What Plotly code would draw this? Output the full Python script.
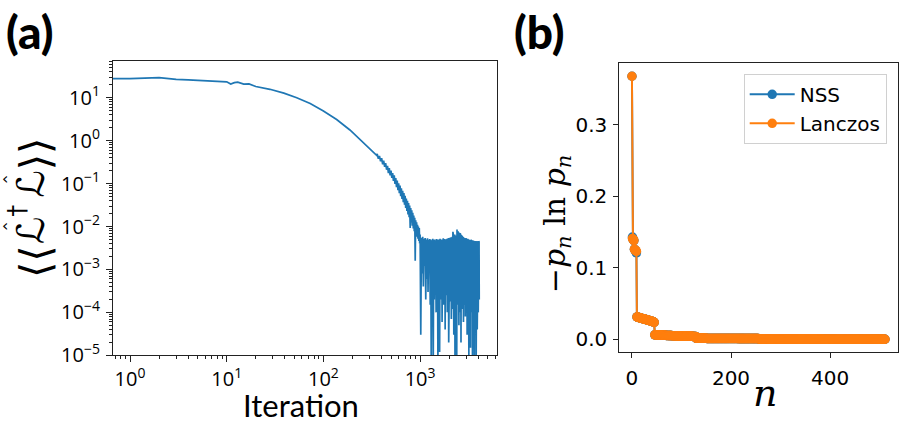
import numpy as np
import plotly.graph_objects as go

# ---------------- Panel (a): residual vs iteration ----------------
smooth_iter = [0, 1, 2, 3, 4, 6, 8, 10, 11, 12, 13, 14, 15, 17, 20, 28, 39, 53,
               73, 100, 137, 188, 258, 300, 355]
smooth_loss = [27.9, 27.9, 29.4, 26.6, 26.0, 25.0, 24.3, 23.5, 20.8, 22.5, 23.0,
               21.5, 20.7, 21.0, 18.2, 15.7, 12.8, 10.0, 7.3, 4.9, 3.1, 1.77,
               0.91, 0.68, 0.456]

trans_iter = list(range(360, 1000, 10))
trans_loss = [0.49, 0.38, 0.44, 0.33, 0.39, 0.28, 0.34, 0.245, 0.30, 0.21,
              0.26, 0.175, 0.23, 0.155, 0.20, 0.135, 0.175, 0.115, 0.155, 0.098,
              0.135, 0.082, 0.118, 0.070, 0.102, 0.060, 0.090, 0.051, 0.078, 0.044,
              0.068, 0.037, 0.060, 0.032, 0.052, 0.027, 0.045, 0.023, 0.040, 0.019,
              0.035, 0.0165, 0.031, 0.0093, 0.027, 0.0125, 0.024, 0.0105, 0.021, 0.009,
              0.018, 0.0078, 0.016, 0.0016, 0.014, 0.0065, 0.0125, 0.0058, 0.011, 0.0052,
              0.010, 0.0046, 0.0092, 0.0040]

noise_iter = list(range(1000, 4089, 16))
noise_loss = [
    6.5e-3, 3e-5, 5.5e-3, 8e-4, 5.8e-3, 4e-4, 5.2e-3, 1.2e-3, 5.4e-3, 2e-4,
    5.0e-3, 6e-4, 5.3e-3, 3e-4, 4.9e-3, 9e-4, 5.1e-3, 1.5e-4, 5.0e-3, 5e-6,
    4.8e-3, 4e-4, 5.2e-3, 8e-6, 4.9e-3, 2e-4, 5.0e-3, 7e-4, 4.7e-3, 1e-4,
    5.1e-3, 3e-4, 4.8e-3, 6e-6, 5.0e-3, 5e-4, 4.9e-3, 1.2e-5, 5.2e-3, 2e-4,
    4.8e-3, 8e-4, 5.0e-3, 6e-5, 4.9e-3, 3e-4, 5.3e-3, 1.5e-4, 4.8e-3, 5e-4,
    5.1e-3, 4e-5, 5.0e-3, 2.5e-4, 4.9e-3, 9e-4, 5.2e-3, 1e-4, 5.0e-3, 3e-4,
    5.4e-3, 2e-5, 5.1e-3, 6e-4, 5.5e-3, 1.8e-4, 5.2e-3, 4e-4, 5.6e-3, 7e-5,
    5.3e-3, 3e-4, 5.8e-3, 1.2e-4, 7.5e-3, 5e-4, 6.0e-3, 3e-5, 5.5e-3, 2e-4,
    6.5e-3, 6e-6, 5.8e-3, 4e-4, 6.2e-3, 1e-4, 5.6e-3, 8e-6, 8.5e-3, 3e-4,
    6.8e-3, 1.5e-4, 7.8e-3, 6e-4, 6.5e-3, 5e-5, 7.2e-3, 2.5e-4, 6.0e-3, 1e-4,
    7.0e-3, 4e-4, 5.8e-3, 2e-5, 6.4e-3, 3e-4, 5.6e-3, 1.2e-4, 6.0e-3, 7e-4,
    5.4e-3, 2e-4, 5.7e-3, 6e-5, 5.2e-3, 3.5e-4, 5.5e-3, 1.5e-4, 5.0e-3, 5e-4,
    5.3e-3, 8e-5, 5.1e-3, 2.5e-4, 5.4e-3, 1e-4, 5.0e-3, 6e-4, 5.2e-3, 3e-5,
    4.9e-3, 2e-4, 5.1e-3, 4e-4, 4.8e-3, 1.2e-4, 5.0e-3, 7e-6, 4.7e-3, 3e-4,
    4.9e-3, 9e-5, 4.6e-3, 5e-4, 4.8e-3, 1.5e-5, 4.6e-3, 2e-4, 4.9e-3, 6e-4,
    4.7e-3, 1e-4, 4.5e-3, 3e-4, 4.8e-3, 5e-6, 4.6e-3, 2.5e-4, 4.4e-3, 8e-5,
    4.7e-3, 4e-4, 4.5e-3, 1.5e-4, 4.3e-3, 6e-6, 4.6e-3, 3e-4, 4.4e-3, 1e-4,
    4.5e-3, 5e-4, 4.3e-3, 2e-4, 4.6e-3, 9e-6, 4.4e-3, 3e-4, 4.5e-3, 1.2e-4,
    4.3e-3, 4e-5, 4.5e-3, 2.5e-4, 4.4e-3, 6e-4, 4.6e-3, 1e-4, 4.4e-3, 3e-4,
    4.5e-3, 1.2e-4, 4.4e-3, 2e-4,
]

a_xticks = [1, 10, 100, 1000]
a_xticklabels = ["10<sup>0</sup>", "10<sup>1</sup>", "10<sup>2</sup>", "10<sup>3</sup>"]
a_yticks = [1e-5, 1e-4, 1e-3, 1e-2, 1e-1, 1, 10]
a_yticklabels = ["10<sup>−5</sup>", "10<sup>−4</sup>", "10<sup>−3</sup>", "10<sup>−2</sup>",
                 "10<sup>−1</sup>", "10<sup>0</sup>", "10<sup>1</sup>"]

# ---------------- Panel (b): -p ln p vs n ----------------
lanczos_head = [0.368, 0.141, 0.140, 0.139, 0.138, 0.126, 0.125, 0.124, 0.124, 0.123]
nss_head = [0.368, 0.143, 0.140, 0.139, 0.138, 0.126, 0.125, 0.124, 0.123, 0.121]
shell2 = [0.0312, 0.0310, 0.0309, 0.0306, 0.0304, 0.0303, 0.0300, 0.0298, 0.0297,
          0.0294, 0.0292, 0.0291, 0.0288, 0.0286, 0.0285, 0.0282, 0.0280, 0.0279,
          0.0276, 0.0274, 0.0273, 0.0270, 0.0268, 0.0267, 0.0264, 0.0262, 0.0261,
          0.0258, 0.0256, 0.0255, 0.0252, 0.0250, 0.0247, 0.0244, 0.0240, 0.0236]
shell3 = [0.0062, 0.0062, 0.0061, 0.0061, 0.0061, 0.0060, 0.0060,
          0.0060, 0.0059, 0.0059, 0.0059, 0.0058, 0.0058, 0.0058,
          0.0057, 0.0057, 0.0057, 0.0056, 0.0056, 0.0056, 0.0055,
          0.0055, 0.0055, 0.0054, 0.0054, 0.0054, 0.0053, 0.0053,
          0.0053, 0.0052, 0.0052, 0.0052, 0.0051, 0.0051, 0.0051,
          0.0050, 0.0050, 0.0050, 0.0049, 0.0049, 0.0049, 0.0048,
          0.0048, 0.0048, 0.0048, 0.0047, 0.0047, 0.0047, 0.0047,
          0.0046, 0.0046, 0.0046, 0.0046, 0.0045, 0.0045, 0.0045,
          0.0045, 0.0044, 0.0044, 0.0044, 0.0044, 0.0044, 0.0043,
          0.0043, 0.0043, 0.0043, 0.0043, 0.0042, 0.0042, 0.0042,
          0.0042, 0.0042, 0.0041, 0.0041, 0.0041, 0.0041, 0.0041,
          0.0040, 0.0040, 0.0040, 0.0040, 0.0040, 0.0039, 0.0039]
tail_levels = [0.0013, 0.0012, 0.0011, 0.0011, 0.0010, 0.0009,
               0.00035, 0.00030, 0.00028, 0.00025, 0.00022, 0.00020,
               7e-5, 6e-5, 5e-5, 4e-5,
               1.2e-5, 0.9e-5,
               2e-6, 3e-7]
tail_counts = [21, 21, 21, 21, 21, 21,
               21, 21, 21, 21, 21, 21,
               21, 21, 21, 21,
               18, 18,
               9, 1]

tail = []
for lv, c in zip(tail_levels, tail_counts):
    tail += [lv] * c
lanczos = lanczos_head + shell2 + shell3 + tail
nss = nss_head + shell2 + shell3 + tail
n_vals = list(range(len(lanczos)))

b_xticks = [0, 200, 400]
b_yticks = [0.0, 0.1, 0.2, 0.3]
b_yticklabels = ["0.0", "0.1", "0.2", "0.3"]

# ---------------- Figure ----------------
W, H = 903, 445
BLUE, ORANGE = "#1f77b4", "#ff7f0e"

xa = smooth_iter + trans_iter + noise_iter
ya = smooth_loss + trans_loss + noise_loss
# nonpositive x on a log axis is clipped far to the left (as matplotlib does)
xa_plot = [x if x > 0 else 1e-3 for x in xa]

fig = go.Figure()
fig.add_trace(go.Scatter(x=xa_plot, y=ya, mode="lines", showlegend=False,
                         line=dict(color=BLUE, width=1.7), xaxis="x", yaxis="y"))
fig.add_trace(go.Scatter(x=n_vals, y=nss, mode="lines+markers", name="NSS",
                         line=dict(color=BLUE, width=2), marker=dict(size=9.5, color=BLUE),
                         xaxis="x2", yaxis="y2"))
fig.add_trace(go.Scatter(x=n_vals, y=lanczos, mode="lines+markers", name="Lanczos",
                         line=dict(color=ORANGE, width=2), marker=dict(size=9.5, color=ORANGE),
                         xaxis="x2", yaxis="y2"))

minor_x = [m * 10 ** e for e in range(-1, 4) for m in range(2, 10)]
minor_y = [m * 10 ** e for e in range(-5, 2) for m in range(2, 10)]

axis_common = dict(showline=True, mirror=True, linecolor="#222", linewidth=1,
                   showgrid=False, zeroline=False, ticks="outside", tickcolor="#222",
                   tickwidth=1)
tick_font_a = dict(family="Open Sans", size=20, color="black")
tick_font_b = dict(family="DejaVu Sans", size=20, color="black")

fig.update_layout(
    width=W, height=H, autosize=False, margin=dict(l=0, r=0, t=0, b=0),
    paper_bgcolor="white", plot_bgcolor="white",
    xaxis=dict(domain=[113 / W, 497 / W], anchor="y", type="log",
               range=[np.log10(0.667), np.log10(6240)],
               tickmode="array", tickvals=a_xticks, ticktext=a_xticklabels,
               ticklen=6, tickfont=tick_font_a,
               minor=dict(tickmode="array", tickvals=minor_x, ticks="outside",
                          ticklen=3, tickcolor="#222", showgrid=False),
               **axis_common),
    yaxis=dict(domain=[(H - 366) / H, (H - 63) / H], anchor="x", type="log",
               range=[-5, np.log10(71)],
               tickmode="array", tickvals=a_yticks, ticktext=a_yticklabels,
               ticklen=6, tickfont=tick_font_a, ticklabelstandoff=2,
               minor=dict(tickmode="array", tickvals=minor_y, ticks="outside",
                          ticklen=3, tickcolor="#222", showgrid=False),
               **axis_common),
    xaxis2=dict(domain=[619.3 / W, 897.7 / W], anchor="y2",
                range=[-25.55, 536.55], tickmode="array", tickvals=b_xticks,
                ticklen=5, tickfont=tick_font_b, ticklabelstandoff=3, **axis_common),
    yaxis2=dict(domain=[(H - 363) / H, (H - 65) / H], anchor="x2",
                range=[-0.0184, 0.3864], tickmode="array", tickvals=b_yticks,
                ticktext=b_yticklabels, ticklen=5, tickfont=tick_font_b,
                ticklabelstandoff=2, **axis_common),
    legend=dict(x=886.7 / W, xanchor="right", y=(H - 76) / H, yanchor="top",
                bgcolor="rgba(255,255,255,0.8)", bordercolor="#d0d0d0", borderwidth=1,
                font=dict(family="DejaVu Sans", size=20, color="black"),
                itemwidth=45),
)

def px_ann(text, x, y, size, family, angle=0, xanchor="center", yanchor="middle", weight=None):
    f = dict(family=family, size=size, color="black")
    if weight is not None:
        f["weight"] = weight
    return dict(text=text, x=x / W, y=(H - y) / H, xref="paper", yref="paper",
                xanchor=xanchor, yanchor=yanchor, textangle=angle, showarrow=False,
                font=f)

ann = [
    px_ann("(a)", 4, 2, 46, "Lato", xanchor="left", yanchor="top", weight=900),
    px_ann("(b)", 512, 2, 46, "Lato", xanchor="left", yanchor="top", weight=900),
    px_ann("Iteration", 301, 417, 31, "Lato"),
    # y label of panel (a):  <<L^dagger L>>  (rotated)
    px_ann("⟨⟨", 35, 270, 42, "DejaVu Sans", angle=-90),
    px_ann("ℒ", 31, 238, 38, "DejaVu Sans", angle=-90),
    px_ann("†", 17, 217, 24, "DejaVu Sans", angle=-90),
    px_ann("ℒ", 31, 190, 38, "DejaVu Sans", angle=-90),
    px_ann("⟩⟩", 35, 159, 42, "DejaVu Sans", angle=-90),
    px_ann("‹", 5, 232, 16, "DejaVu Sans"),
    px_ann("‹", 5, 184, 16, "DejaVu Sans"),
    # panel (b) labels
    px_ann("−<i>p</i><sub><i>n</i></sub> ln <i>p</i><sub><i>n</i></sub>", 556, 231, 30,
           "DejaVu Serif", angle=-90),
    px_ann("<i>n</i>", 765, 405, 38, "DejaVu Serif"),
]
fig.update_layout(annotations=ann)

fig.write_html("out.html",
               config={"displayModeBar": False, "responsive": False},
               post_script="document.body.style.margin='0';"
                           "document.body.style.overflow='hidden';")
